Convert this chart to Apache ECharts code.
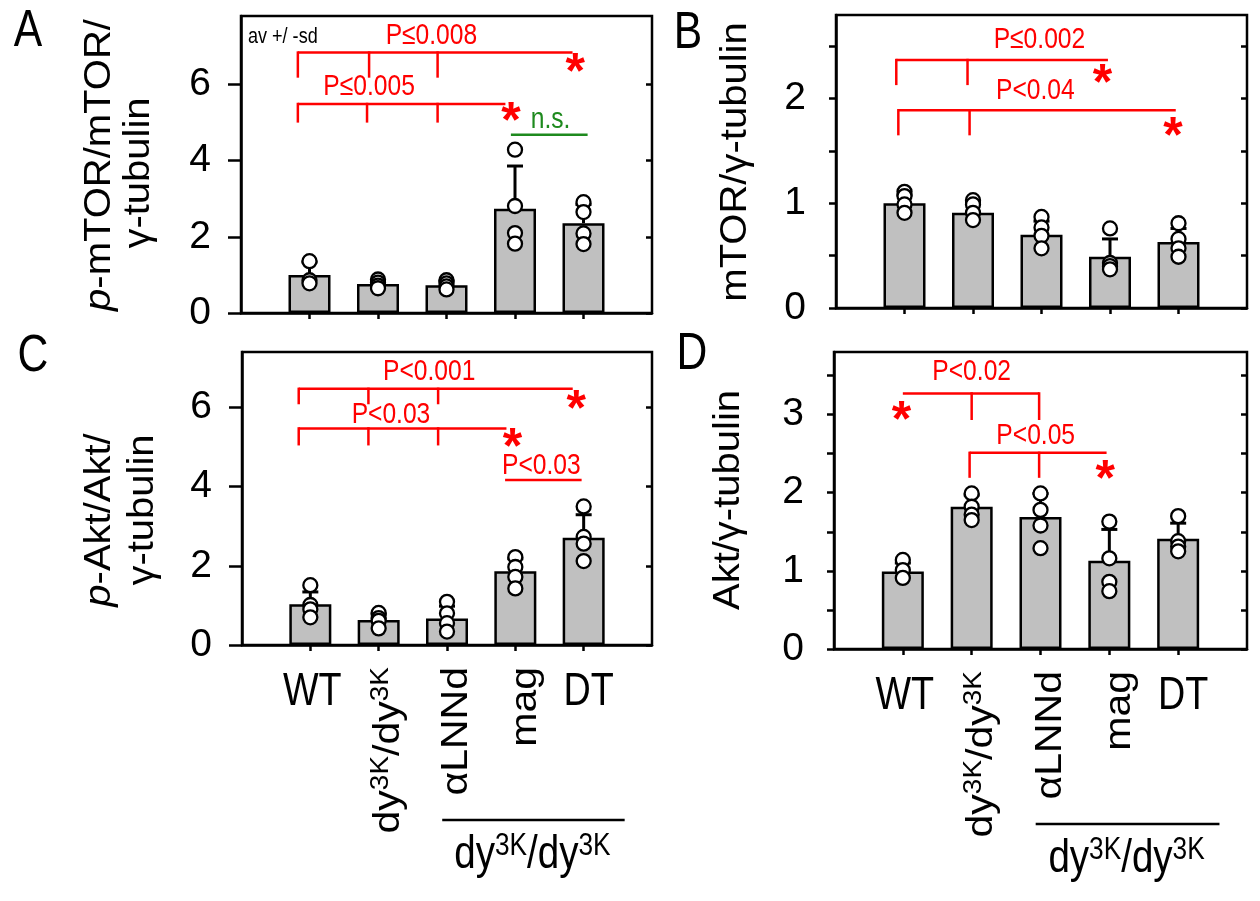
<!DOCTYPE html>
<html><head><meta charset="utf-8">
<script src="https://cdn.jsdelivr.net/npm/echarts@6/dist/echarts.min.js"></script>
<style>html,body{margin:0;padding:0;background:#fff}#c{width:1260px;height:901px}</style>
</head><body><div id="c"></div>
<script>
// ---------- data ----------
const categories = ['WT', 'dy3K/dy3K', 'αLNNd', 'mag', 'DT'];
const catX = [1, 2, 3, 4, 5];
const catLabelsRich = ['WT', 'dy{s|3K}/dy{s|3K}', 'αLNNd', 'mag', 'DT'];
const catRotated = [false, true, true, true, false];
const groupLabel = 'dy{s|3K}/dy{s|3K}';
const groupRange = [2.93, 5.6];
const groupLabelX = 4.25;

const meanA = [1.00, 0.76, 0.73, 2.74, 2.36];
const sdA   = [0.34, 0.09, 0.11, 1.12, 0.49];
const ptsA  = [[1.36, 0.86, 0.78], [0.88, 0.80, 0.72, 0.65], [0.86, 0.78, 0.70, 0.62], [4.29, 2.81, 2.10, 1.82], [2.91, 2.65, 2.09, 1.81]];

const meanB = [1.00, 0.91, 0.70, 0.49, 0.63];
const sdB   = [0.08, 0.10, 0.13, 0.17, 0.13];
const ptsB  = [[1.11, 1.07, 0.99, 0.91], [1.03, 0.99, 0.91, 0.84], [0.87, 0.77, 0.69, 0.57], [0.76, 0.43, 0.40, 0.37], [0.81, 0.66, 0.57, 0.49]];

const meanC = [1.03, 0.63, 0.67, 1.86, 2.71];
const sdC   = [0.31, 0.15, 0.31, 0.32, 0.58];
const ptsC  = [[1.51, 1.01, 0.90, 0.70], [0.81, 0.68, 0.61, 0.42], [1.09, 0.80, 0.55, 0.34], [2.22, 1.97, 1.72, 1.43], [3.50, 2.73, 2.56, 2.12]];

const meanD = [0.99, 1.82, 1.69, 1.13, 1.41];
const sdD   = [0.11, 0.15, 0.30, 0.40, 0.20];
const ptsD  = [[1.14, 1.01, 0.91], [1.99, 1.82, 1.72, 1.65], [1.99, 1.78, 1.58, 1.29], [1.63, 1.16, 0.86, 0.74], [1.70, 1.38, 1.31, 1.25]];

const yMax = [7.8, 2.8, 7.4, 3.8];
const yStep = [2, 0.5, 2, 0.5];
const yTicksA = [0, 2, 4, 6];
const yTicksB = [0, 0.5, 1, 1.5, 2, 2.5];
const yTicksC = [0, 2, 4, 6];
const yTicksD = [0, 0.5, 1, 1.5, 2, 2.5, 3, 3.5];
const yLabelsA = [0, 2, 4, 6];
const yLabelsB = [0, 1, 2];
const yLabelsC = [0, 2, 4, 6];
const yLabelsD = [0, 1, 2, 3];

const yNames = [['{i|p}-mTOR/mTOR/', 'γ-tubulin'], ['mTOR/γ-tubulin'], ['{i|p}-Akt/Akt/', 'γ-tubulin'], ['Akt/γ-tubulin']];
const panelLetters = ['A', 'B', 'C', 'D'];

// significance brackets (data coordinates)
const bracketsA = [
  {y: 6.84, x0: 0.83, x1: 4.84, drops: [0.83, 1.87, 2.87], bottom: 6.18, text: 'P≤0.008', tx: 2.78, ty: 7.28, star: [4.88, 6.55], color: '#ff0000'},
  {y: 5.49, x0: 0.83, x1: 3.86, drops: [0.83, 1.84, 2.87], bottom: 5.0, text: 'P≤0.005', tx: 1.87, ty: 5.94, star: [3.94, 5.27], color: '#ff0000'},
  {y: 4.68, x0: 3.94, x1: 5.06, drops: [], bottom: 4.68, text: 'n.s.', tx: 4.52, ty: 5.07, star: null, color: '#1e8a1e'}
];
const bracketsB = [
  {y: 2.37, x0: 0.88, x1: 3.97, drops: [0.88, 1.92], bottom: 2.13, text: 'P≤0.002', tx: 2.97, ty: 2.56, star: [3.89, 2.23], color: '#ff0000'},
  {y: 1.89, x0: 0.91, x1: 4.96, drops: [0.91, 1.95], bottom: 1.65, text: 'P<0.04', tx: 2.91, ty: 2.08, star: [4.92, 1.73], color: '#ff0000'}
];
const bracketsC = [
  {y: 6.47, x0: 0.83, x1: 4.84, drops: [0.83, 1.85, 2.87], bottom: 6.08, text: 'P<0.001', tx: 2.74, ty: 6.91, star: [4.89, 6.17], color: '#ff0000'},
  {y: 5.47, x0: 0.83, x1: 3.87, drops: [0.83, 1.85, 2.87], bottom: 5.04, text: 'P<0.03', tx: 2.18, ty: 5.82, star: [3.96, 5.23], color: '#ff0000'},
  {y: 4.17, x0: 3.85, x1: 4.97, drops: [], bottom: 4.17, text: 'P<0.03', tx: 4.38, ty: 4.53, star: null, color: '#ff0000'}
];
const bracketsD = [
  {y: 3.27, x0: 1.0, x1: 2.98, drops: [2.0, 2.98], bottom: 2.93, text: 'P<0.02', tx: 2.0, ty: 3.55, star: [0.98, 3.04], color: '#ff0000'},
  {y: 2.51, x0: 1.97, x1: 3.96, drops: [1.97, 2.98], bottom: 2.19, text: 'P<0.05', tx: 2.93, ty: 2.73, star: [3.94, 2.29], color: '#ff0000'}
];

// ---------- layout / style ----------
const FONT = '"Liberation Sans", Arial, sans-serif';
const TICKFONT = '"Liberation Sans Narrow", "Arial Narrow", "Liberation Sans", sans-serif';
const NARROW = 0.82;
const grids = [
  {left: 241, top: 16, width: 411, height: 297},
  {left: 836, top: 15, width: 411, height: 293},
  {left: 242, top: 352, width: 410, height: 293},
  {left: 834, top: 352, width: 413, height: 297}
];
const leftTickLen = [13, 7, 13, 7];

function richSup(fs) {
  return {
    s: {fontSize: Math.round(fs * 0.68), lineHeight: Math.round(fs * 0.6), verticalAlign: 'top', fontFamily: FONT, fill: '#000'},
    i: {fontStyle: 'italic', fontSize: fs, fontFamily: FONT, fill: '#000'}
  };
}

const panels = [
  {mean: meanA, sd: sdA, pts: ptsA, ticks: yTicksA, labels: yLabelsA, br: bracketsA},
  {mean: meanB, sd: sdB, pts: ptsB, ticks: yTicksB, labels: yLabelsB, br: bracketsB},
  {mean: meanC, sd: sdC, pts: ptsC, ticks: yTicksC, labels: yLabelsC, br: bracketsC},
  {mean: meanD, sd: sdD, pts: ptsD, ticks: yTicksD, labels: yLabelsD, br: bracketsD}
];

const xAxis = [], yAxis = [], series = [];
panels.forEach((p, gi) => {
  xAxis.push({
    gridIndex: gi, type: 'value', min: 0, max: 6, interval: 1,
    axisLine: {show: true, onZero: false, lineStyle: {color: '#000', width: 2.5}},
    axisTick: {show: true, length: 6, customValues: catX, lineStyle: {color: '#000', width: 2.5}},
    axisLabel: {show: false}, splitLine: {show: false}
  });
  yAxis.push({
    gridIndex: gi, type: 'value', min: 0, max: yMax[gi], interval: yStep[gi], position: 'left',
    axisLine: {show: true, lineStyle: {color: '#000', width: 2.5}},
    axisTick: {show: true, inside: false, length: leftTickLen[gi], customValues: p.ticks, lineStyle: {color: '#000', width: 2.5}},
    axisLabel: {show: true, color: '#000', fontSize: 39, fontFamily: TICKFONT, margin: 30, customValues: p.labels},
    splitLine: {show: false}
  });
  yAxis.push({
    gridIndex: gi, type: 'value', min: 0, max: yMax[gi], interval: yStep[gi], position: 'right',
    axisLine: {show: false},
    axisTick: {show: true, inside: true, length: 6, customValues: p.ticks, lineStyle: {color: '#000', width: 2.5}},
    axisLabel: {show: false}, splitLine: {show: false}
  });
  const yi = gi * 2;
  series.push({
    type: 'bar', xAxisIndex: gi, yAxisIndex: yi, barWidth: 42, silent: true, z: 2,
    itemStyle: {color: '#c0c0c0', borderColor: '#000', borderWidth: 2.5},
    data: catX.map((x, i) => [x, p.mean[i]])
  });
  series.push({
    type: 'custom', xAxisIndex: gi, yAxisIndex: yi, silent: true, z: 3,
    data: catX.map((x, i) => [x, p.mean[i], p.mean[i] + p.sd[i]]),
    encode: {x: 0, y: [1, 2]},
    renderItem: (params, api) => {
      const x = api.value(0);
      const a = api.coord([x, api.value(1)]);
      const b = api.coord([x, api.value(2)]);
      return {type: 'group', children: [
        {type: 'line', shape: {x1: a[0], y1: a[1], x2: b[0], y2: b[1]}, style: {stroke: '#000', lineWidth: 3}},
        {type: 'line', shape: {x1: b[0] - 8, y1: b[1], x2: b[0] + 8, y2: b[1]}, style: {stroke: '#000', lineWidth: 3}}
      ]};
    }
  });
  const sp = [];
  p.pts.forEach((arr, i) => arr.forEach(v => sp.push([catX[i], v])));
  series.push({
    type: 'scatter', xAxisIndex: gi, yAxisIndex: yi, silent: true, z: 4,
    symbol: 'circle', symbolSize: 14,
    itemStyle: {color: '#fff', borderColor: '#000', borderWidth: 2.3, opacity: 1},
    data: sp
  });
  series.push({
    type: 'custom', xAxisIndex: gi, yAxisIndex: yi, silent: true, z: 5, clip: false,
    data: p.br.map(b => [b.x0, b.y]),
    renderItem: (params, api) => {
      const b = p.br[params.dataIndex];
      const col = b.color;
      const ch = [];
      const L = api.coord([b.x0, b.y]), R = api.coord([b.x1, b.y]);
      ch.push({type: 'line', shape: {x1: L[0], y1: L[1], x2: R[0], y2: R[1]}, style: {stroke: col, lineWidth: 2.5}});
      b.drops.forEach(d => {
        const t = api.coord([d, b.y]), bt = api.coord([d, b.bottom]);
        ch.push({type: 'line', shape: {x1: t[0], y1: t[1] - 1.2, x2: bt[0], y2: bt[1]}, style: {stroke: col, lineWidth: 2.5}});
      });
      const tp = api.coord([b.tx, b.ty]);
      ch.push({type: 'text', x: tp[0], y: tp[1], scaleX: NARROW,
        style: {text: b.text, fill: col, fontSize: 30, fontFamily: FONT, align: 'center', verticalAlign: 'middle'}});
      if (b.star) {
        const s = api.coord(b.star);
        ch.push({type: 'text', x: s[0], y: s[1] + 11,
          style: {text: '*', fill: col, fontSize: 50, fontWeight: 'bold', fontFamily: FONT, align: 'center', verticalAlign: 'middle'}});
      }
      return {type: 'group', children: ch};
    }
  });
  if (gi >= 2) {
    series.push({
      type: 'custom', xAxisIndex: gi, yAxisIndex: yi, silent: true, z: 5, clip: false,
      data: catX.map(x => [x, 0]),
      renderItem: (params, api) => {
        const i = params.dataIndex;
        const c = api.coord([api.value(0), 0]);
        if (catRotated[i]) {
          return {type: 'text', x: c[0] + 10, y: c[1] + 22, rotation: Math.PI / 2, scaleY: 0.9,
            style: {text: catLabelsRich[i], fill: '#000', fontSize: 41, lineHeight: 45, fontFamily: FONT,
              align: 'right', verticalAlign: 'middle', rich: richSup(41)}};
        }
        return {type: 'text', x: c[0] + (i === 4 ? 5 : 2), y: c[1] + 47, scaleX: NARROW,
          style: {text: catLabelsRich[i], fill: '#000', fontSize: 46, fontFamily: FONT, align: 'center', verticalAlign: 'middle'}};
      }
    });
    series.push({
      type: 'custom', xAxisIndex: gi, yAxisIndex: yi, silent: true, z: 5, clip: false,
      data: [[groupRange[0], 0]],
      renderItem: (params, api) => {
        const a = api.coord([groupRange[0], 0]), b = api.coord([groupRange[1], 0]), c = api.coord([groupLabelX, 0]);
        return {type: 'group', children: [
          {type: 'line', shape: {x1: a[0], y1: a[1] + 175, x2: b[0], y2: b[1] + 175}, style: {stroke: '#000', lineWidth: 2.5}},
          {type: 'text', x: c[0], y: c[1] + 210, scaleX: NARROW,
            style: {text: groupLabel, fill: '#000', fontSize: 47, lineHeight: 50, fontFamily: FONT, align: 'center', verticalAlign: 'middle', rich: richSup(47)}}
        ]};
      }
    });
  }
});

// ---------- static text (layout) ----------
const nameSpecs = [
  [{x: 100, y: 165}, {x: 139, y: 173}],
  [{x: 736, y: 162}],
  [{x: 100, y: 520}, {x: 143, y: 510}],
  [{x: 729, y: 500}]
];
const graphic = [];
nameSpecs.forEach((lines, gi) => lines.forEach((pos, li) => {
  graphic.push({type: 'text', x: pos.x, y: pos.y, rotation: Math.PI / 2, scaleY: 0.92, silent: true,
    style: {text: yNames[gi][li], fill: '#000', fontSize: 40, fontFamily: FONT, align: 'center', verticalAlign: 'middle', rich: richSup(40)}});
}));
const letterPos = [[28, 32], [688, 34], [33, 357], [692, 355]];
panelLetters.forEach((L, i) => graphic.push({type: 'text', x: letterPos[i][0], y: letterPos[i][1], scaleX: NARROW, silent: true,
  style: {text: L, fill: '#000', fontSize: 52, fontFamily: FONT, align: 'center', verticalAlign: 'middle'}}));
graphic.push({type: 'text', x: 248, y: 37, scaleX: NARROW, silent: true,
  style: {text: 'av +/ -sd', fill: '#000', fontSize: 22, fontFamily: FONT, align: 'left', verticalAlign: 'middle'}});

const chart = echarts.init(document.getElementById('c'), null, {renderer: 'canvas'});
chart.setOption({
  animation: false,
  backgroundColor: '#fff',
  grid: grids.map(g => Object.assign({show: true, borderColor: '#000', borderWidth: 2.5, backgroundColor: 'transparent', containLabel: false}, g)),
  xAxis, yAxis, series, graphic
});
</script></body></html>
